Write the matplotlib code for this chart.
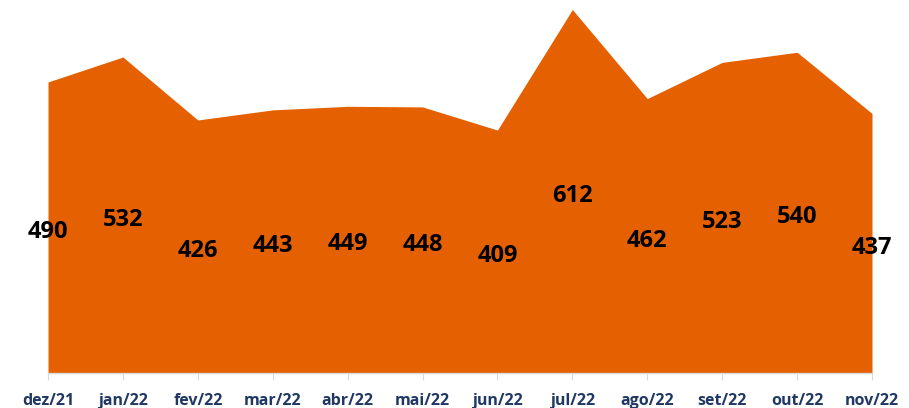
import matplotlib.pyplot as plt
import numpy as np

months = ['dez/21', 'jan/22', 'fev/22', 'mar/22', 'abr/22', 'mai/22',
          'jun/22', 'jul/22', 'ago/22', 'set/22', 'out/22', 'nov/22']
values = [490, 532, 426, 443, 449, 448, 409, 612, 462, 523, 540, 437]

ORANGE = '#E56000'
NAVY = '#203864'
FONT = ['Open Sans', 'DejaVu Sans']

fig = plt.figure(figsize=(9.09, 4.08), dpi=100)
ax = fig.add_axes([48 / 909, (408 - 373) / 408, 824 / 909, 373 / 408])

x = np.arange(len(months))
ax.fill_between(x, values, 0, color=ORANGE, linewidth=0)

# data labels sit in the middle of the area
for xi, v in zip(x, values):
    ax.text(xi, v / 2 - 3, str(v), ha='center', va='center_baseline', fontsize=17,
            fontweight='bold', family=FONT, color='black')

ax.set_xlim(0, len(months) - 1)
ax.set_ylim(0, 628)
ax.set_xticks(x)
ax.set_xticklabels(months, fontsize=11.5, fontweight='bold', family=FONT, color=NAVY)
ax.set_yticks([])
for s in ['top', 'right', 'left']:
    ax.spines[s].set_visible(False)
ax.spines['bottom'].set_color('#D9D9D9')
ax.spines['bottom'].set_linewidth(1)
ax.tick_params(axis='x', length=5, color='#D9D9D9', pad=9.5)

fig.savefig('out.png', dpi=100)
